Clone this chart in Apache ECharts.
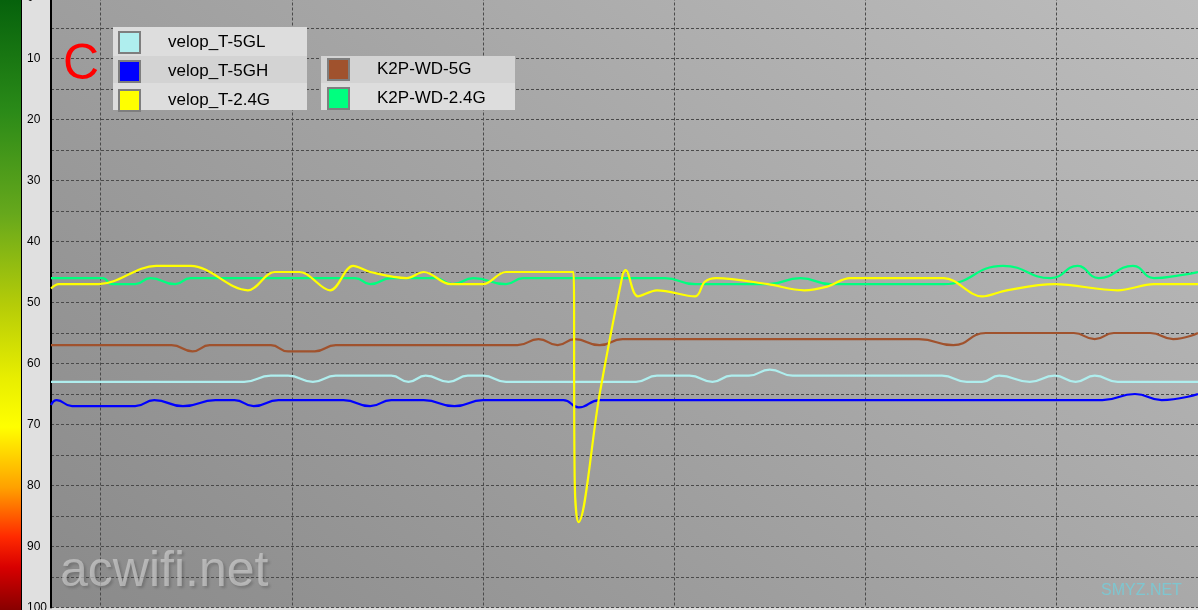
<!DOCTYPE html>
<html><head><meta charset="utf-8">
<script src="https://cdn.jsdelivr.net/npm/echarts@6/dist/echarts.min.js"></script>
<style>html,body{margin:0;padding:0;background:#e0e0e0}#c{width:1198px;height:610px}</style>
</head><body><div id="c"></div>
<script>
// ---- data (time in seconds, signal value) ----
const gridTimes = [26, 126, 226, 326, 426, 526];

const tVelop5GL = [0,101,115,124,137,149,178,187,196,208,218,226,238,306,317,334,346,356,365,376,388,466,479,487,496,512,525,536,546,558,600];
const vVelop5GL = [63,63,62,62,63,62,62,63,62,63,62,62,63,63,62,62,63,62,62,61,62,62,63,63,62,63,62,63,62,63,63];

const tVelop5GH = [0,3,11,44,54,69,86,96,106,119,153,167,178,195,211,226,268,276,287,550,567,581,600];
const vVelop5GH = [66.8,66,67,67,66,67,66,66,67,66,66,67,66,66,67,66,66,67.2,66,66,65,66,65];

const tVelop24 = [0,4,25,55,73,103,117,130,146,158,167,186,195,209,226,238,273.3,274,275.9,287,299,300.5,307,317,337,342,348,375,394,406,418,467,487,500,525,558,577,600];
const vVelop24 = [47.7,47,47,44,44,48,45,45,48,44,45,46,45,47,47,45,45,80,86,65,45.5,44.7,49,48,49,46.6,46,47,48,47.4,46,46,49,48,47,48,47,47];

const tK2P5G = [0,63,74,83,115,124,138,149,244,255,265,274,287,299,454,472,489,535,546,556,575,587,600];
const vK2P5G = [57,57,58,57,57,58,58,57,57,56,57,56,57,56,56,57,55,55,56,55,55,56,55];

const tK2P24 = [0,27,32,44,52,65,73,159,167,178,201,210,221,238,247,321,337,375,392,408,467,498,523,537,548,566,577,591,600];
const vK2P24 = [46,46,47,47,46,47,46,46,47,46,46,47,46,47,46,46,47,47,46,47,47,44,46,44,46,44,46,45.5,45];

const legendLeft = ['velop_T-5GL','velop_T-5GH','velop_T-2.4G'];
const legendRight = ['K2P-WD-5G','K2P-WD-2.4G'];

// ---- chart ----
function zip(t, v) { return t.map((x, i) => [x, v[i]]); }
const FONT = '"Liberation Sans", Arial, sans-serif';
const lines = [
  {name:'K2P-WD-2.4G', data: zip(tK2P24, vK2P24), color:'#00ff7f', smooth:0.5},
  {name:'K2P-WD-5G', data: zip(tK2P5G, vK2P5G), color:'#a0522d', smooth:0.5},
  {name:'velop_T-5GL', data: zip(tVelop5GL, vVelop5GL), color:'#afeeee', smooth:0.5},
  {name:'velop_T-5GH', data: zip(tVelop5GH, vVelop5GH), color:'#0000ff', smooth:0.5},
  {name:'velop_T-2.4G', data: zip(tVelop24, vVelop24), color:'#ffff00', smooth:0.35}
];
const gridLineStyle = {color:'#4a4a4a', type:[3,2], width:1};
const chart = echarts.init(document.getElementById('c'));
const series = [{
  type:'line', data:[], z:1, silent:true,
  markLine:{z:1, silent:true, symbol:'none', label:{show:false}, lineStyle:gridLineStyle,
    emphasis:{disabled:true}, data: gridTimes.map(t => ({xAxis:t}))}
}].concat(lines.map(s => ({
  type:'line', name:s.name, data:s.data, smooth:s.smooth, showSymbol:false, z:2,
  color:s.color, lineStyle:{color:s.color, width:2.2}, itemStyle:{color:s.color}
})));
const legendCommon = {
  orient:'vertical', itemWidth:21, itemHeight:21, itemGap:6, padding:0, icon:'rect',
  selectedMode:false, z:9,
  itemStyle:{borderColor:'#7e7e7e', borderWidth:2},
  textStyle:{fontSize:17, color:'#000', fontFamily:FONT, padding:[0,0,0,23]}
};
const rowBg = (x, y, h, fill) => ({type:'rect', z:8, silent:true, shape:{x:x, y:y, width:194, height:h}, style:{fill:fill}});
chart.setOption({
  backgroundColor:'#e0e0e0',
  animation:false,
  grid:{left:51, right:0, top:-2.5, bottom:2.5, show:true, borderWidth:0, outerBoundsMode:'none', containLabel:false,
    backgroundColor:new echarts.graphic.LinearGradient(0,1,0.665,-0.518,[{offset:0,color:'#8a8a8a'},{offset:1,color:'#bdbdbd'}])},
  xAxis:{type:'value', min:0, max:600, show:false},
  yAxis:{type:'value', inverse:true, min:0, max:100, interval:5,
    axisLine:{show:true, onZero:false, lineStyle:{color:'#000', width:2}},
    axisTick:{show:false},
    axisLabel:{align:'left', margin:24, color:'#000', fontSize:12, fontFamily:FONT,
      formatter: v => (v % 10 === 0 ? String(v) : '')},
    splitLine:{show:true, lineStyle:gridLineStyle}
  },
  legend:[
    Object.assign({}, legendCommon, {data:legendLeft, left:118, top:31}),
    Object.assign({}, legendCommon, {data:legendRight, left:327, top:58})
  ],
  graphic:[
    {type:'rect', z:10, silent:true, shape:{x:0, y:0, width:21, height:610},
      style:{fill:new echarts.graphic.LinearGradient(0,0,0,1,[
        {offset:0, color:'#06620c'}, {offset:0.18, color:'#2a8a18'}, {offset:0.35, color:'#66a81c'},
        {offset:0.5, color:'#b5cc08'}, {offset:0.62, color:'#e8ee00'}, {offset:0.7, color:'#ffff00'},
        {offset:0.8, color:'#ffa000'}, {offset:0.88, color:'#ff2a00'}, {offset:0.93, color:'#d80000'},
        {offset:1, color:'#880000'}])}},
    {type:'line', z:10, silent:true, shape:{x1:21.5, y1:0, x2:21.5, y2:610}, style:{stroke:'#000', lineWidth:1}},
    rowBg(113, 27, 29, '#dddddd'), rowBg(113, 56, 27, '#d3d3d3'), rowBg(113, 83, 27, '#dddddd'),
    rowBg(321, 56, 27, '#d3d3d3'), rowBg(321, 83, 27, '#dddddd'),
    {type:'text', z:7, silent:true, style:{text:'C', x:63, y:65, fill:'#ff0000', font:'50px ' + FONT, verticalAlign:'middle'}},
    {type:'text', z:7, silent:true, style:{text:'acwifi.net', x:60, y:572, fill:'rgba(215,215,215,0.6)', font:'50px ' + FONT,
      verticalAlign:'middle', textShadowColor:'rgba(40,40,40,0.45)', textShadowBlur:3, textShadowOffsetX:2, textShadowOffsetY:2}},
    {type:'text', z:7, silent:true, style:{text:'SMYZ.NET', x:1101, y:591, fill:'#7ec6d0', font:'16px ' + FONT, verticalAlign:'middle'}}
  ],
  series:series
});
</script>
</body></html>
